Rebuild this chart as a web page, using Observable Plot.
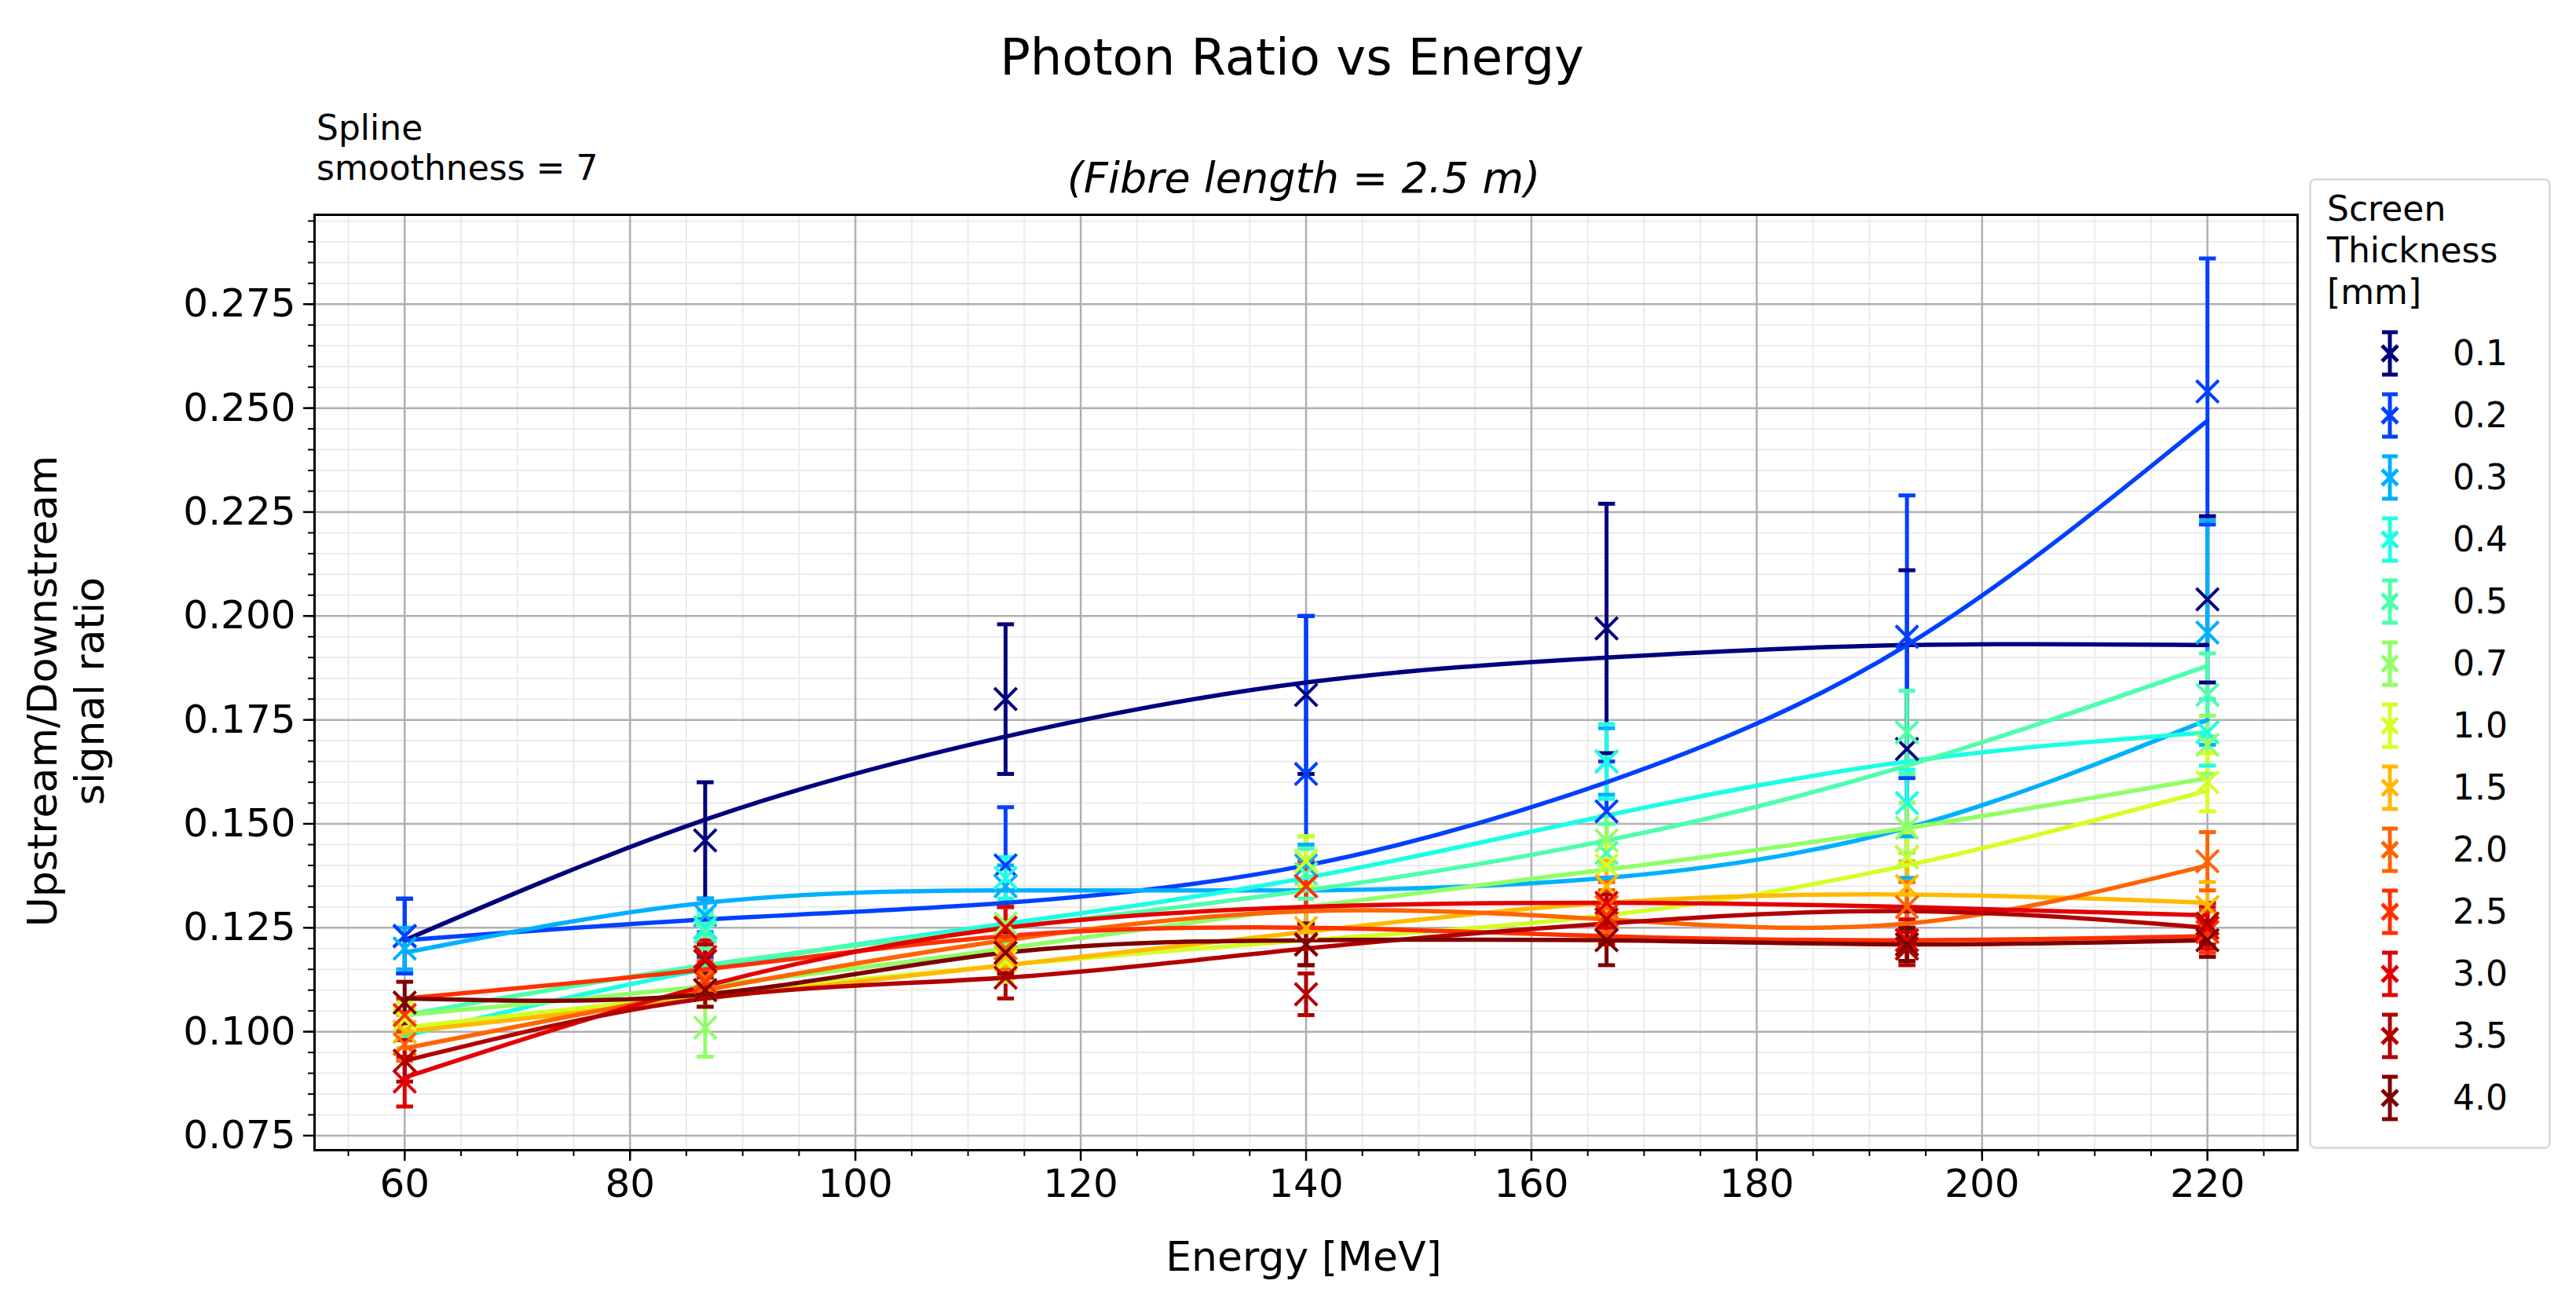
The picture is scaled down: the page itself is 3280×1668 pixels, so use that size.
<!DOCTYPE html>
<html><head><meta charset="utf-8">
<script src="https://cdn.jsdelivr.net/npm/d3@7"></script>
<script src="https://cdn.jsdelivr.net/npm/@observablehq/plot@0.6"></script>
<style>
body{margin:0;background:#fff;font-family:"DejaVu Sans",sans-serif;}
#wrap{position:relative;width:3280px;height:1668px;}
.t{position:absolute;white-space:nowrap;color:#000;}
#legend{position:absolute;left:2940px;top:227px;width:308px;height:1236px;border:3px solid #ddd;border-radius:8px;box-sizing:border-box;padding:10px 20px;font-size:44px;}
.row{display:flex;align-items:center;height:79px;}
</style></head><body>
<div id="wrap"></div>
<script>
const energies = [60, 86.67, 113.33, 140, 166.67, 193.33, 220];
const thickness = ["0.1","0.2","0.3","0.4","0.5","0.7","1.0","1.5","2.0","2.5","3.0","3.5","4.0"];
const colors = ["#00007f","#0040ff","#00b0ff","#1affe4","#4dffaa","#90ff66","#d4ff23","#ffb900","#ff6400","#ff3000","#e30000","#b20000","#7f0000"];
const pointValues = [
 [0.123,0.146,0.180,0.181,0.197,0.168,0.204],
 [0.123,0.125,0.140,0.162,0.153,0.195,0.254],
 [0.120,0.128,0.135,0.140,0.165,0.142,0.196],
 [0.100,0.125,0.137,0.141,0.165,0.155,0.172],
 [0.104,0.124,0.125,0.138,0.143,0.172,0.181],
 [0.104,0.101,0.126,0.141,0.146,0.149,0.169],
 [0.103,0.112,0.117,0.141,0.140,0.142,0.160],
 [0.100,0.110,0.118,0.125,0.135,0.135,0.130],
 [0.097,0.113,0.120,0.135,0.130,0.130,0.141],
 [0.104,0.112,0.125,0.135,0.128,0.122,0.124],
 [0.088,0.118,0.125,0.121,0.131,0.122,0.125],
 [0.093,0.117,0.113,0.109,0.127,0.120,0.126],
 [0.107,0.110,0.119,0.121,0.122,0.121,0.122]];
const errValues = [
 [0.009,0.014,0.018,0.019,0.030,0.043,0.020],
 [0.009,0.007,0.014,0.038,0.012,0.034,0.032],
 [0.005,0.004,0.005,0.005,0.008,0.005,0.027],
 [0.004,0.004,0.005,0.006,0.009,0.008,0.008],
 [0.004,0.004,0.005,0.006,0.007,0.010,0.010],
 [0.004,0.007,0.005,0.006,0.006,0.006,0.007],
 [0.004,0.004,0.005,0.006,0.006,0.006,0.007],
 [0.004,0.004,0.005,0.005,0.006,0.006,0.006],
 [0.004,0.004,0.005,0.005,0.006,0.006,0.007],
 [0.004,0.004,0.005,0.006,0.006,0.005,0.005],
 [0.006,0.004,0.005,0.005,0.006,0.005,0.005],
 [0.005,0.004,0.005,0.005,0.006,0.004,0.005],
 [0.005,0.004,0.005,0.005,0.006,0.004,0.004]];
const curveValues = [
 [0.122,0.151,0.171,0.184,0.190,0.193,0.193],
 [0.122,0.127,0.131,0.140,0.160,0.193,0.247],
 [0.119,0.131,0.134,0.134,0.137,0.149,0.175],
 [0.099,0.115,0.126,0.137,0.152,0.165,0.172],
 [0.104,0.116,0.125,0.134,0.146,0.164,0.188],
 [0.104,0.111,0.120,0.130,0.139,0.149,0.161],
 [0.101,0.109,0.116,0.122,0.128,0.140,0.158],
 [0.100,0.108,0.116,0.124,0.131,0.133,0.131],
 [0.096,0.110,0.122,0.129,0.127,0.126,0.140],
 [0.108,0.115,0.123,0.125,0.123,0.122,0.123],
 [0.089,0.111,0.125,0.130,0.131,0.130,0.128],
 [0.093,0.108,0.113,0.120,0.126,0.129,0.125],
 [0.108,0.109,0.119,0.122,0.122,0.121,0.122]];
const xMajor = d3.range(60, 221, 20);
const xMinor = d3.range(55, 226, 5);
const yMajor = [0.075,0.1,0.125,0.15,0.175,0.2,0.225,0.25,0.275];
const yMinor = d3.range(0, 60).map(i => +(0.07 + i*0.005).toFixed(3)).filter(v => v <= 0.295);

const pts = [], curves = [];
thickness.forEach((t,i) => energies.forEach((e,j) => {
  pts.push({t, x:e, y:pointValues[i][j], err:errValues[i][j]});
  curves.push({t, x:e, y:curveValues[i][j]});
}));
const color = {domain: thickness, range: colors};
const xm = xMinor.filter(v=>v>52&&v<228), ym = yMinor.filter(v=>v>0.0715&&v<0.2965);

const plot = Plot.plot({
  width: 3280, height: 1668,
  marginLeft: 400, marginRight: 355, marginTop: 273, marginBottom: 204,
  x: {domain:[52, 228], label:null},
  y: {domain:[0.0715, 0.2965], label:null},
  color,
  style: {fontFamily:"DejaVu Sans", fontSize:"50px", background:"#fff"},
  marks: [
    Plot.ruleX(xm, {stroke:"#ebebeb", strokeWidth:2}),
    Plot.ruleY(ym, {stroke:"#ebebeb", strokeWidth:2}),
    Plot.ruleX(xMajor, {stroke:"#b0b0b0", strokeWidth:2.5}),
    Plot.ruleY(yMajor, {stroke:"#b0b0b0", strokeWidth:2.5}),
    Plot.axisX(xm, {tickSize:8, tickFormat:()=>"", strokeWidth:2, label:null}),
    Plot.axisY(ym, {tickSize:8, tickFormat:()=>"", strokeWidth:2, label:null}),
    Plot.axisX(xMajor, {tickSize:14, tickPadding:10, strokeWidth:2.5, label:null, fontSize:50}),
    Plot.axisY(yMajor, {tickSize:14, tickPadding:10, strokeWidth:2.5, label:null, tickFormat:d3.format(".3f"), fontSize:50}),
    Plot.ruleX(pts, {x:"x", y1:d=>d.y-d.err, y2:d=>d.y+d.err, stroke:"t", strokeWidth:5}),
    Plot.link(pts, {x1:d=>d.x-0.75, x2:d=>d.x+0.75, y1:d=>d.y-d.err, y2:d=>d.y-d.err, stroke:"t", strokeWidth:5}),
    Plot.link(pts, {x1:d=>d.x-0.75, x2:d=>d.x+0.75, y1:d=>d.y+d.err, y2:d=>d.y+d.err, stroke:"t", strokeWidth:5}),
    Plot.line(curves, {x:"x", y:"y", z:"t", stroke:"t", strokeWidth:5.5, curve:"natural"}),
    Plot.dot(pts, {x:"x", y:"y", stroke:"t", symbol:"times", r:13, strokeWidth:4}),
    Plot.frame({stroke:"#000", strokeWidth:3})
  ]
});
const wrap = document.getElementById("wrap");
wrap.appendChild(plot);
plot.style.position="absolute"; plot.style.left="0"; plot.style.top="0";

function addText(txt, css){ const d=document.createElement("div"); d.className="t"; d.innerHTML=txt; Object.assign(d.style, css); wrap.appendChild(d); return d; }
addText("Photon Ratio vs Energy", {left:"1645px", top:"36px", transform:"translateX(-50%)", fontSize:"64px"});
addText("(Fibre length = 2.5 m)", {left:"1660px", top:"195px", transform:"translateX(-50%)", fontSize:"54px", fontStyle:"italic"});
addText("Spline<br>smoothness = 7", {left:"403px", top:"138px", fontSize:"44px", lineHeight:"1.15"});
addText("Energy [MeV]", {left:"1660px", top:"1570px", transform:"translateX(-50%)", fontSize:"52px"});
addText("Upstream/Downstream<br>signal ratio", {left:"85px", top:"880px", transform:"translate(-50%,-50%) rotate(-90deg)", fontSize:"52px", textAlign:"center", lineHeight:"1.15"});

const lg = document.createElement("div"); lg.id="legend";
lg.innerHTML = `<div style="line-height:1.2;margin-bottom:12px">Screen<br>Thickness<br>[mm]</div>` +
  thickness.map((t,i)=>`<div class="row"><svg width="150" height="70" style="margin-left:10px"><g stroke="${colors[i]}" stroke-width="5">
  <line x1="70" y1="8" x2="70" y2="62"/><line x1="60" y1="8" x2="80" y2="8"/><line x1="60" y1="62" x2="80" y2="62"/>
  <line x1="60" y1="25" x2="80" y2="45"/><line x1="60" y1="45" x2="80" y2="25"/></g></svg><span>${t}</span></div>`).join("");
wrap.appendChild(lg);
</script></body></html>
